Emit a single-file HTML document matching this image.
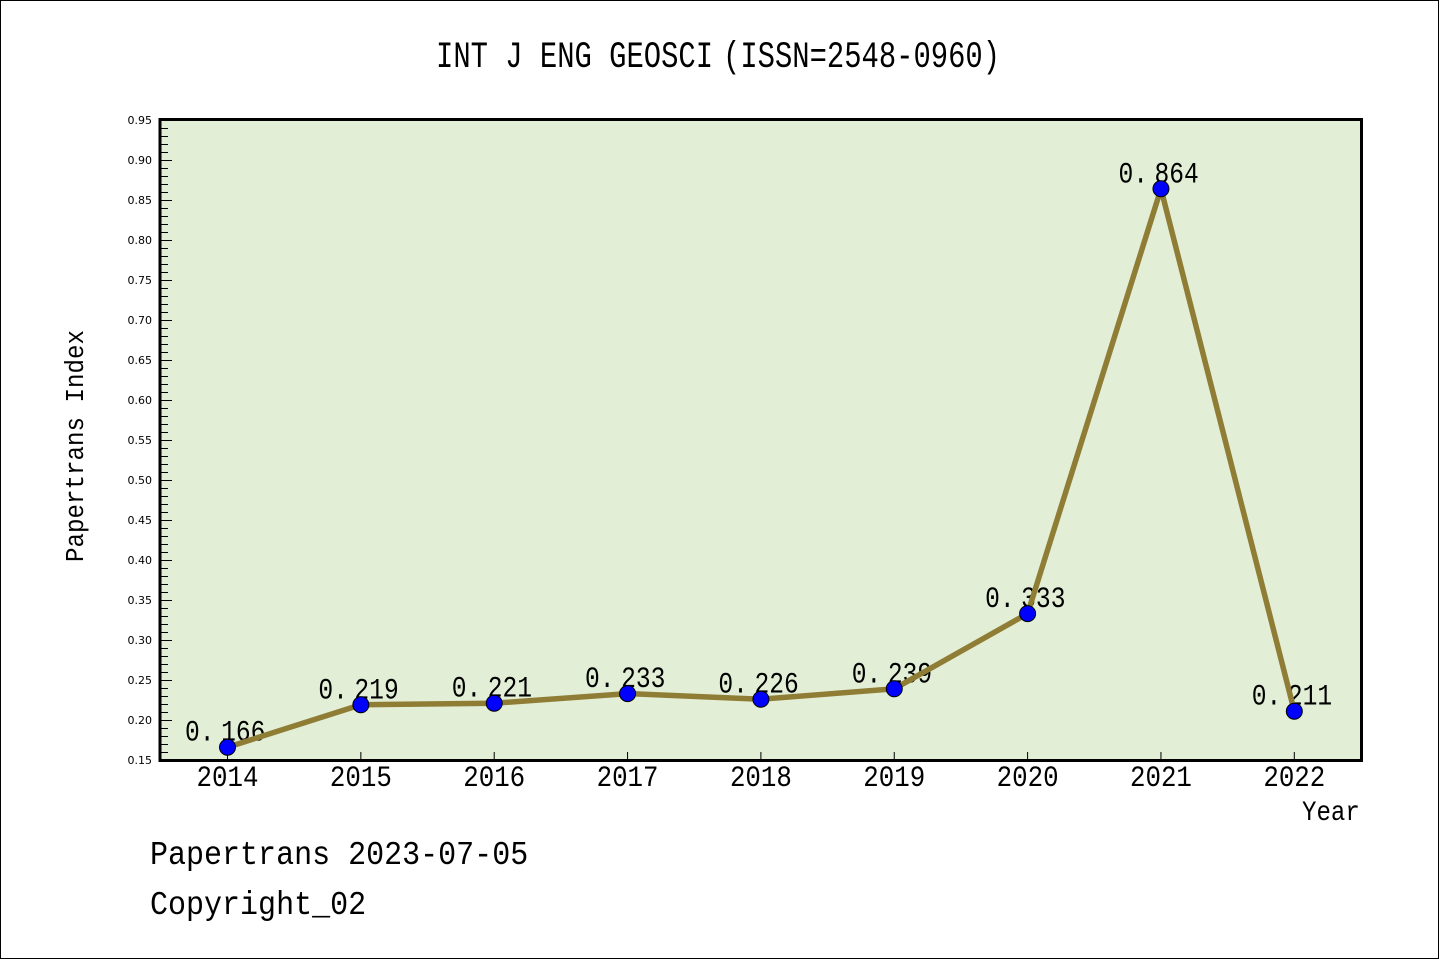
<!DOCTYPE html>
<html>
<head>
<meta charset="utf-8">
<style>
  html, body { margin:0; padding:0; background:#ffffff; }
  svg { display:block; }
  .m { font-family: "Liberation Mono", "Noto Sans CJK SC", monospace; fill:#000; }
  .t { font-family: "DejaVu Sans", "Liberation Sans", sans-serif; font-size:11px; fill:#000; }
</style>
</head>
<body>
<svg width="1440" height="960" viewBox="0 0 1440 960" xmlns="http://www.w3.org/2000/svg">
  <rect x="0" y="0" width="1440" height="960" fill="#ffffff"/>
  <rect x="0.5" y="0.5" width="1438" height="958" fill="none" stroke="#000" stroke-width="1"/>

  <!-- Title -->
  <g transform="translate(436,67) scale(0.78,1)">
    <text class="m" x="0" y="0" font-size="37">INT J ENG GEOSCI<tspan x="368">(ISSN=2548-0960)</tspan></text>
  </g>

  <!-- Plot area -->
  <rect x="160" y="119.5" width="1201.5" height="641" fill="#e2efd6"/>

  <!-- Y ticks -->
  <line x1="164.5" y1="120" x2="164.5" y2="761" stroke="#000" stroke-width="7" stroke-dasharray="1 7"/>
  <line x1="166.5" y1="120" x2="166.5" y2="761" stroke="#000" stroke-width="11" stroke-dasharray="1 39"/>

  <!-- X ticks -->
  <g stroke="#000" stroke-width="1">
    <line x1="227.5" y1="752" x2="227.5" y2="760"/>
    <line x1="360.85" y1="752" x2="360.85" y2="760"/>
    <line x1="494.2" y1="752" x2="494.2" y2="760"/>
    <line x1="627.55" y1="752" x2="627.55" y2="760"/>
    <line x1="760.9" y1="752" x2="760.9" y2="760"/>
    <line x1="894.25" y1="752" x2="894.25" y2="760"/>
    <line x1="1027.6" y1="752" x2="1027.6" y2="760"/>
    <line x1="1160.95" y1="752" x2="1160.95" y2="760"/>
    <line x1="1294.3" y1="752" x2="1294.3" y2="760"/>
  </g>

  <!-- Plot frame -->
  <rect x="160" y="119.5" width="1201.5" height="641" fill="none" stroke="#000" stroke-width="3"/>

  <!-- Y tick labels -->
  <g class="t" text-anchor="end">
    <text x="152" y="124">0.95</text>
    <text x="152" y="164">0.90</text>
    <text x="152" y="204">0.85</text>
    <text x="152" y="244">0.80</text>
    <text x="152" y="284">0.75</text>
    <text x="152" y="324">0.70</text>
    <text x="152" y="364">0.65</text>
    <text x="152" y="404">0.60</text>
    <text x="152" y="444">0.55</text>
    <text x="152" y="484">0.50</text>
    <text x="152" y="524">0.45</text>
    <text x="152" y="564">0.40</text>
    <text x="152" y="604">0.35</text>
    <text x="152" y="644">0.30</text>
    <text x="152" y="684">0.25</text>
    <text x="152" y="724">0.20</text>
    <text x="152" y="764">0.15</text>
  </g>

  <!-- X tick labels -->
  <g class="m" font-size="30" text-anchor="middle">
    <text transform="translate(227.5,786) scale(0.86,1)">2014</text>
    <text transform="translate(360.85,786) scale(0.86,1)">2015</text>
    <text transform="translate(494.2,786) scale(0.86,1)">2016</text>
    <text transform="translate(627.55,786) scale(0.86,1)">2017</text>
    <text transform="translate(760.9,786) scale(0.86,1)">2018</text>
    <text transform="translate(894.25,786) scale(0.86,1)">2019</text>
    <text transform="translate(1027.6,786) scale(0.86,1)">2020</text>
    <text transform="translate(1160.95,786) scale(0.86,1)">2021</text>
    <text transform="translate(1294.3,786) scale(0.86,1)">2022</text>
  </g>

  <!-- Axis titles -->
  <text class="m" font-size="28" transform="translate(1302,820) scale(0.86,1)">Year</text>
  <text class="m" font-size="26" text-anchor="middle" transform="translate(83,446) rotate(-90) scale(0.93,1)">Papertrans Index</text>

  <!-- Data labels -->
  <g class="m" font-size="30">
    <text transform="translate(185,740.7) scale(0.82,1)">0.<tspan dx="8">166</tspan></text>
    <text transform="translate(318.35,698.3) scale(0.82,1)">0.<tspan dx="8">219</tspan></text>
    <text transform="translate(451.7,696.7) scale(0.82,1)">0.<tspan dx="8">221</tspan></text>
    <text transform="translate(585.05,687.1) scale(0.82,1)">0.<tspan dx="8">233</tspan></text>
    <text transform="translate(718.4,692.7) scale(0.82,1)">0.<tspan dx="8">226</tspan></text>
    <text transform="translate(851.75,682.3) scale(0.82,1)">0.<tspan dx="8">239</tspan></text>
    <text transform="translate(985.1,607.1) scale(0.82,1)">0.<tspan dx="8">333</tspan></text>
    <text transform="translate(1118.45,182.3) scale(0.82,1)">0.<tspan dx="8">864</tspan></text>
    <text transform="translate(1251.8,704.7) scale(0.82,1)">0.<tspan dx="8">211</tspan></text>
  </g>

  <!-- Series line -->
  <polyline fill="none" stroke="#8f7d35" stroke-width="5.5" stroke-linejoin="round" stroke-linecap="round"
    points="227.5,747.2 360.85,704.8 494.2,703.2 627.55,693.6 760.9,699.2 894.25,688.8 1027.6,613.6 1160.95,188.8 1294.3,711.2"/>

  <!-- Markers -->
  <g fill="#0000ff" stroke="#000" stroke-width="1">
    <circle cx="227.5" cy="747.2" r="8"/>
    <circle cx="360.85" cy="704.8" r="8"/>
    <circle cx="494.2" cy="703.2" r="8"/>
    <circle cx="627.55" cy="693.6" r="8"/>
    <circle cx="760.9" cy="699.2" r="8"/>
    <circle cx="894.25" cy="688.8" r="8"/>
    <circle cx="1027.6" cy="613.6" r="8"/>
    <circle cx="1160.95" cy="188.8" r="8"/>
    <circle cx="1294.3" cy="711.2" r="8"/>
  </g>

  <!-- Footer -->
  <text class="m" font-size="33" transform="translate(150,864) scale(0.91,1)">Papertrans 2023-07-05</text>
  <text class="m" font-size="33" transform="translate(150,914) scale(0.91,1)">Copyright_02</text>
</svg>
</body>
</html>
